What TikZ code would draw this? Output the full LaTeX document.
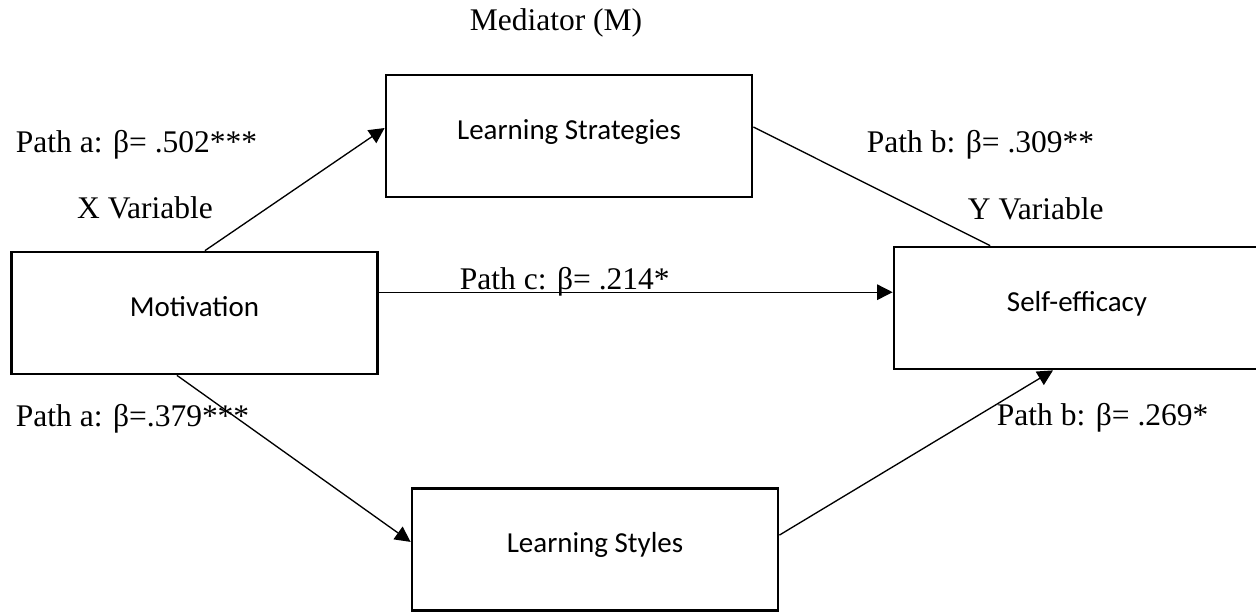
\documentclass[tikz,border=0pt]{standalone}
\usepackage{fontspec}
\setmainfont{Liberation Serif}
\newfontfamily\boxfont{Carlito}
\usetikzlibrary{arrows.meta}

\begin{document}
\begin{tikzpicture}[x=0.025cm, y=-0.025cm, font=\fontsize{22.4}{26}\selectfont,
    varbox/.style={draw, line width=1.9pt, minimum width=9.15cm, minimum height=3.05cm,
        inner sep=0pt, text height=0.47cm, text depth=0.32cm,
        font=\boxfont\fontsize{20.6}{24}\selectfont},
    link/.style={line width=0.95pt},
    arr/.style={link, -{Triangle[length=11pt, width=11pt]}}]
    \useasboundingbox (0,0) rectangle (1256,613);
    % variables
    \node[varbox] (mot) at (194.5,313) {Motivation};
    \node[varbox] (strat) at (569,136) {Learning Strategies};
    \node[varbox] (styl) at (595,549.5) {Learning Styles};
    \node[varbox] (self) at (1077,308) {Self-efficacy};
    % labels
    \node[anchor=base] (medlab) at (556,30) {Mediator (M)};
    \node[anchor=base west] (pa1) at (11,152) {Path a: β= .502***};
    \node[anchor=base] (xvar) at (145,218) {X Variable};
    \node[anchor=base west] (pc) at (455,289) {Path c: β= .214*};
    \node[anchor=base west] (pb1) at (862,152) {Path b: β= .309**};
    \node[anchor=base west] (yvar) at (963,219) {Y Variable};
    \node[anchor=base west] (pa2) at (11,426) {Path a: β=.379***};
    \node[anchor=base west] (pb2) at (992,425) {Path b: β= .269*};
    % paths
    \draw[arr] ([xshift=0.26cm]mot.north) -- ([yshift=0.2cm]strat.west);
    \draw[link] ([yshift=0.225cm]strat.east) -- ([xshift=-2.17cm]self.north);
    \draw[arr] ([yshift=0.52cm]mot.east) -- ([yshift=0.52cm]mot.east -| self.west);
    \draw[arr] ([xshift=-0.44cm]mot.south) -- ([yshift=0.19cm]styl.west);
    \draw[arr] ([yshift=0.36cm]styl.east) -- ([xshift=-0.6cm]self.south);
\end{tikzpicture}
\end{document}
